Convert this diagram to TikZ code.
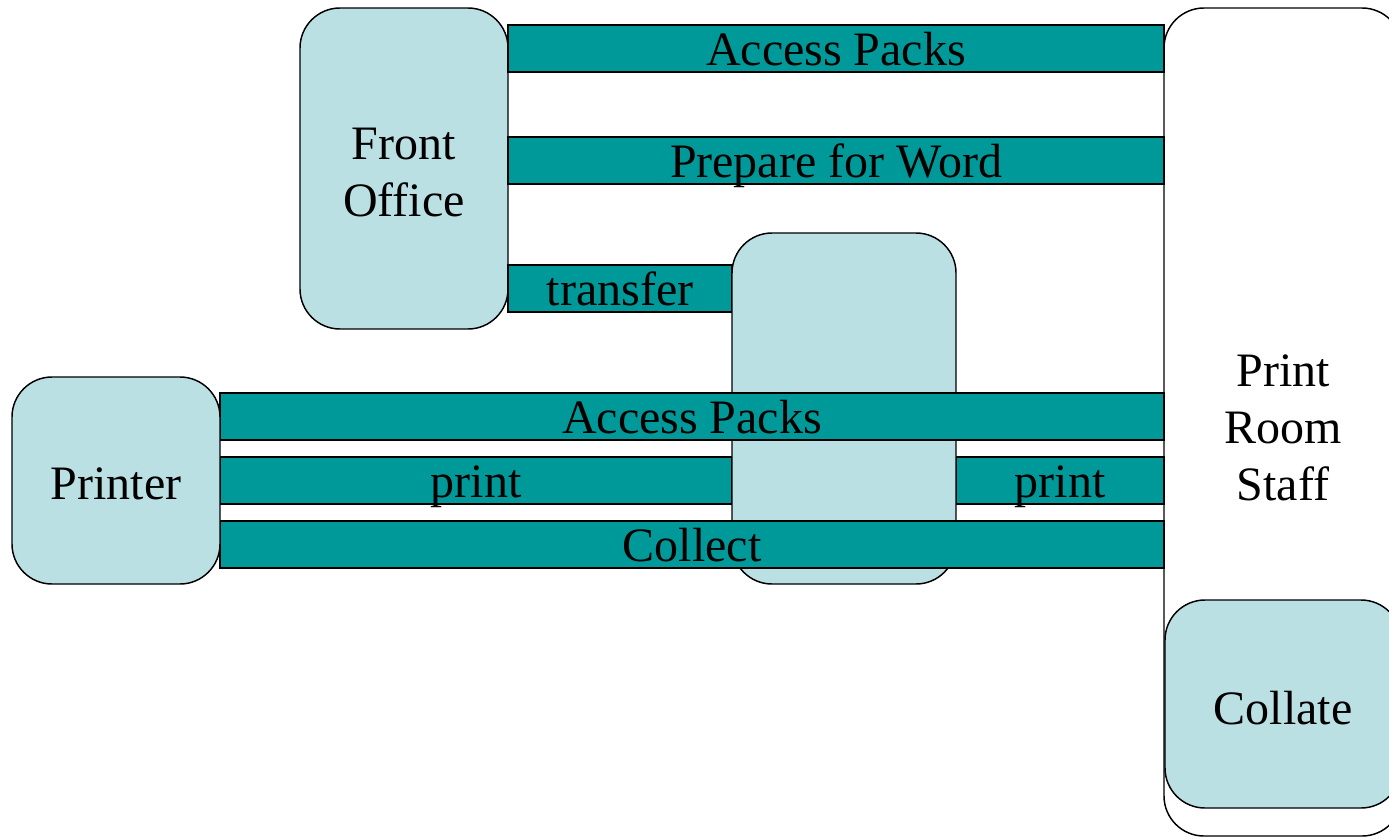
\documentclass[tikz,border=0pt]{standalone}
\usepackage{fontspec}
\setmainfont{Liberation Serif}
\definecolor{boxfill}{HTML}{BBE0E3}
\definecolor{barfill}{HTML}{009999}
\begin{document}
\begin{tikzpicture}[x=0.75pt,y=-0.75pt,
  txt/.style={font=\fontsize{36}{42.75}\selectfont, text=black, align=center},
  box/.style={draw=black, line width=1.1pt, fill=boxfill, rounded corners=30pt, inner sep=0pt},
  whitebox/.style={box, fill=white},
  bar/.style={txt, draw=black, line width=1.1pt, fill=barfill, inner sep=0pt, minimum height=35.25pt, text height=24.75pt, text depth=0pt},
]
\useasboundingbox (0,0) rectangle (1389,839);
\clip (0,0) rectangle (1389,839);
% Front Office
\node[box, minimum width=156pt, minimum height=240.75pt] (fo) at (404,168.5) {};
\node[txt] (folabel) at (404,173) {Front\\Office};
% Print Room Staff
\node[whitebox, minimum width=178.5pt, minimum height=621pt] (prs) at (1283,422) {};
\node[txt] (prslabel) at (1283,428) {Print\\Room\\Staff};
% top bars
\node[bar, minimum width=492pt] (ap1) at (836,48.5) {Access Packs};
\node[bar, minimum width=492pt] (pw) at (836,160.5) {Prepare for Word};
\node[bar, minimum width=168pt] (tr) at (620,288.5) {transfer};
% print bars
\node[bar, minimum width=384pt] (pl) at (476,480.5) {print};
\node[bar, minimum width=156pt] (pr) at (1060,480.5) {print};
% middle box
\node[box, minimum width=168pt, minimum height=263.25pt] (mid) at (844,408.5) {};
% long bars
\node[bar, minimum width=708pt] (ap2) at (692,416.5) {Access Packs};
\node[bar, minimum width=708pt] (col) at (692,544.5) {Collect};
% Printer
\node[box, minimum width=156pt, minimum height=155.25pt] (pri) at (116,480.5) {};
\node[txt] (prilabel) at (116,484) {Printer};
% Collate
\node[box, minimum width=177pt, minimum height=156pt] (cl) at (1283,704) {};
\node[txt] (cllabel) at (1283,708) {Collate};
\end{tikzpicture}
\end{document}
